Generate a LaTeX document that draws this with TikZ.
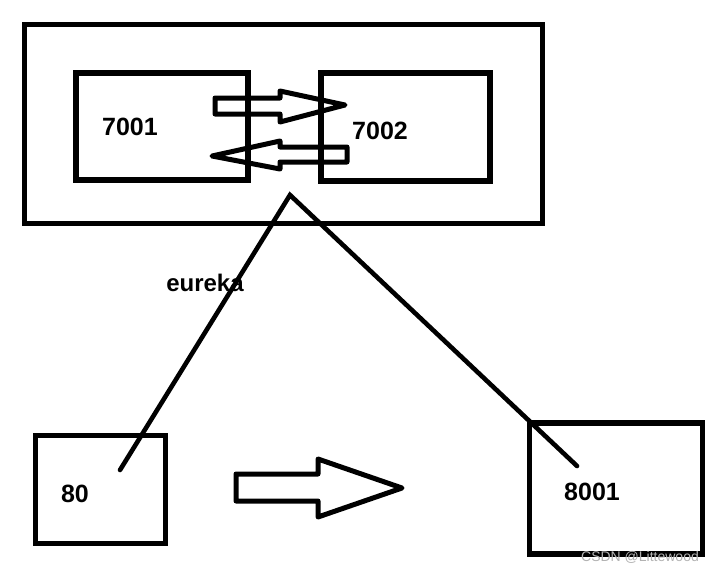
\documentclass[tikz,border=0pt]{standalone}
\usepackage{fontspec}
\setmainfont{Liberation Sans}

\begin{document}
\begin{tikzpicture}[
    x=0.5pt, y=-0.5pt,
    box/.style={draw, line width=2.9pt, inner sep=0pt, minimum width=#1},
    port/.style={font=\fontsize{12.5}{15}\selectfont\bfseries, inner sep=0pt},
    blockarrow/.style={draw, line width=2.5pt, line join=round},
    link/.style={draw, line width=2.3pt, line cap=round}
  ]
  \useasboundingbox (0,0) rectangle (715,573);
  % cluster with the two servers
  \node[box=259pt, minimum height=99.5pt] (cluster) at (283.5,124) {};
  \node[box=86pt, minimum height=53.5pt] (s7001) at (162,126.5) {};
  \node[box=84.5pt, minimum height=54pt] (s7002) at (405.5,127) {};
  \node[port] (l7001) at (130,127) {7001};
  \node[port] (l7002) at (380,131) {7002};
  % replication between them
  \draw[blockarrow] (215,98) -- (280,98) -- (280,91) -- (345,105) -- (280,122)
    -- (280,114) -- (215,114) -- cycle;
  \draw[blockarrow] (347,147) -- (280,147) -- (280,141) -- (212,156) -- (280,169)
    -- (280,162) -- (347,162) -- cycle;
  % clients
  \node[box=65pt, minimum height=54pt] (c80) at (100.5,489.5) {};
  \node[box=86.5pt, minimum height=65.5pt] (c8001) at (616,488.5) {};
  \node[port] (l80) at (75,494) {80};
  \node[port] (l8001) at (592,492) {8001};
  \draw[blockarrow] (236,474) -- (318,474) -- (318,459) -- (402,488) -- (318,517)
    -- (318,501) -- (236,501) -- cycle;
  % registration lines
  \coordinate (apex) at (290,195);
  \coordinate (in80) at (120,470);
  \coordinate (in8001) at (577,466);
  \draw[link] (in80) -- (apex) -- (in8001);
  \node[port, font=\fontsize{12}{14}\selectfont\bfseries] (eureka) at (205,283) {eureka};
  \node[text=gray!60, font=\fontsize{7}{8}\selectfont, inner sep=0pt] (mark) at (640,557) {CSDN @Littewood};
\end{tikzpicture}
\end{document}
